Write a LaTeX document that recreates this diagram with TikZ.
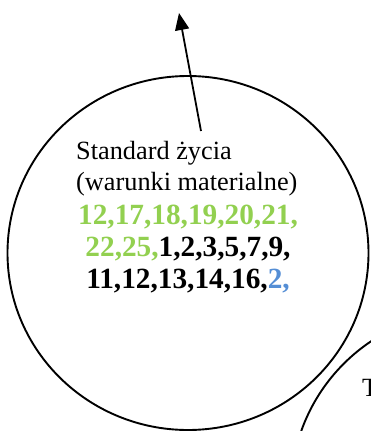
\documentclass[tikz,border=0pt]{standalone}
\usepackage{fontspec}
\setmainfont{Liberation Serif}
\usetikzlibrary{arrows.meta}
\definecolor{lgreen}{HTML}{92D050}
\definecolor{lblue}{HTML}{558ED5}
\tikzset{
  ring/.style={draw=black, line width=1.9pt},
  txt/.style={inner sep=0pt, font=\fontsize{26.3}{31}\selectfont},
  btxt/.style={inner sep=0pt, font=\fontsize{29.3}{32}\selectfont\bfseries},
  arr/.style={line width=1.8pt, -{Triangle[length=17pt,width=14pt]}}
}
\begin{document}
\begin{tikzpicture}[x=1pt,y=-1pt]
\useasboundingbox (0,0) rectangle (371,431);
\clip (0,0) rectangle (371,431);
\draw[ring] (188,253) ellipse [x radius=180.5, y radius=177];
\draw[ring] (471,491) circle [radius=180];
\coordinate (start) at (201,131);
\coordinate (tip) at (179,13);
\draw[arr] (start) -- (tip);
\node[txt, anchor=base west] (l1) at (76,159) {Standard życia};
\node[txt, anchor=base west] (l2) at (76,190) {(warunki materialne)};
\node[btxt, anchor=base, text=lgreen] (l3) at (188,224) {12,17,18,19,20,21,};
\node[btxt, anchor=base] (l4) at (188,256) {\textcolor{lgreen}{22,25,}1,2,3,5,7,9,};
\node[btxt, anchor=base] (l5) at (188,288) {11,12,13,14,16,\textcolor{lblue}{2,}};
\node[txt, anchor=base west] (t2) at (362,396) {T};
\end{tikzpicture}
\end{document}
